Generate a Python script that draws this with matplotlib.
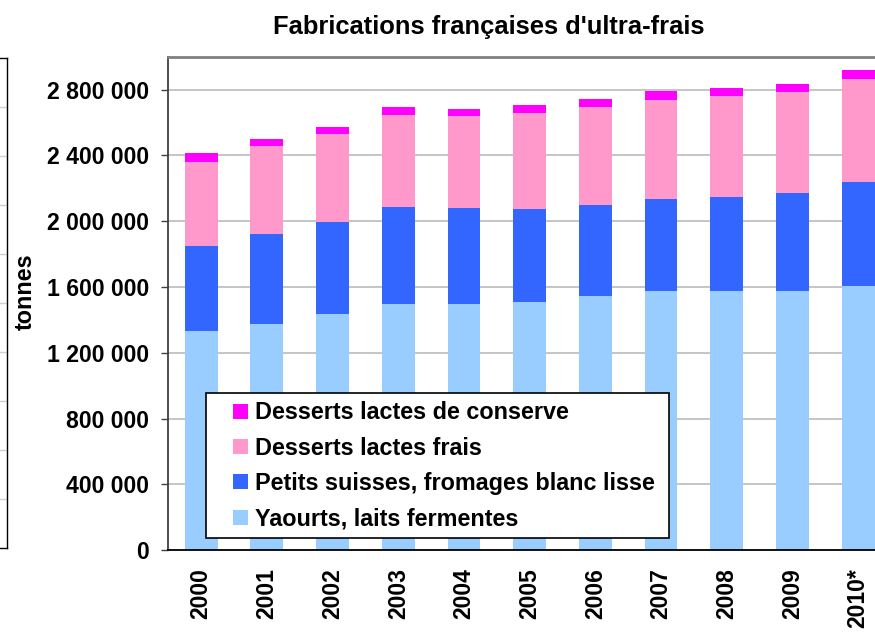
import numpy as np
import matplotlib
matplotlib.use('Agg')
import matplotlib.pyplot as plt
from matplotlib.ticker import FuncFormatter
from matplotlib.patches import Rectangle
from matplotlib.legend_handler import HandlerPatch

plt.rcParams['font.family'] = ['Liberation Sans', 'DejaVu Sans']
plt.rcParams['font.weight'] = 'bold'

years = ['2000', '2001', '2002', '2003', '2004', '2005', '2006', '2007', '2008', '2009', '2010*']
yaourts = [1335000, 1378000, 1439000, 1500000, 1500000, 1512000, 1548000, 1573000, 1573000, 1579000, 1609000]
petits_suisses = [517000, 542000, 554000, 584000, 578000, 560000, 548000, 560000, 572000, 591000, 627000]
desserts_frais = [511000, 536000, 536000, 562000, 560000, 584000, 597000, 603000, 615000, 615000, 627000]
desserts_conserve = [49000, 43000, 43000, 47000, 43000, 49000, 49000, 55000, 49000, 49000, 55000]

series = [
    ('Yaourts, laits fermentes', yaourts, '#99CCFF'),
    ('Petits suisses, fromages blanc lisse', petits_suisses, '#3366FF'),
    ('Desserts lactes frais', desserts_frais, '#FF99CC'),
    ('Desserts lactes de conserve', desserts_conserve, '#FF00FF'),
]

W, H = 875, 632
fig = plt.figure(figsize=(W / 100, H / 100), dpi=100)

# bord du graphique voisin, coupe a gauche
ax0 = fig.add_axes([-0.1, 1 - 547.7 / H, 0.1 + 7 / W, (547.7 - 57.7) / H])
ax0.set_xlim(0, 1)
ax0.set_ylim(0, 10)
for g in range(1, 10):
    ax0.axhline(g, color='#D0D0D0', lw=1.0)
ax0.set_xticks([])
ax0.set_yticks([])
for s in ax0.spines.values():
    s.set_color('black')
    s.set_linewidth(1.0)

ax = fig.add_axes([168.3 / W, 1 - 550.3 / H, (891 - 168.3) / W, (550.3 - 56.7) / H])
x = np.arange(len(years))
bottom = np.zeros(len(years))
handles = {}
for name, vals, col in series:
    b = ax.bar(x, vals, width=0.5, bottom=bottom, color=col, label=name, zorder=2)
    handles[name] = b.patches[0]
    bottom += np.array(vals)

ax.set_xlim(-0.5, len(years) - 0.5)
ax.set_ylim(0, 3000000)
ax.set_yticks(np.arange(0, 3000001, 400000))
ax.yaxis.set_major_formatter(FuncFormatter(lambda v, p: f'{int(v):,}'.replace(',', ' ')))
ax.grid(axis='y', color='#C0C0C0', lw=1.3, zorder=0)
ax.set_axisbelow(True)
ax.set_xticks(x)
ax.set_xticklabels(years, rotation=90, fontsize=16.5, fontweight='bold')
ax.tick_params(axis='x', length=0, pad=13)
ax.tick_params(axis='y', labelsize=16.6, length=5, width=1.0, color='#404040', pad=9)
for lab in ax.get_yticklabels():
    lab.set_fontweight('bold')

ax.spines['top'].set_color('#808080')
ax.spines['top'].set_linewidth(2)
ax.spines['left'].set_color('#404040')
ax.spines['left'].set_linewidth(1.3)
ax.spines['bottom'].set_color('black')
ax.spines['bottom'].set_linewidth(1.3)
ax.spines['right'].set_visible(False)

fig.text(25 / W, 1 - 292 / H, 'tonnes', rotation=90, ha='center', va='center',
         fontsize=16.8, fontweight='bold')
fig.text(489 / W, 1 - 27 / H, "Fabrications françaises d'ultra-frais", ha='center', va='center',
         fontsize=18.4, fontweight='bold')


# carre de legende colle a droite de la zone du symbole
def square(legend, orig_handle, xdescent, ydescent, width, height, fontsize):
    side = 15 * 72 / 100
    return Rectangle((width - side - xdescent, (height - side) / 2 - ydescent), side, side)


order = [s[0] for s in series][::-1]
leg = fig.legend([handles[n] for n in order], order,
                 bbox_to_anchor=(206 / W, 1 - 534 / H, (669 - 206) / W, (534 - 393) / H),
                 loc='upper left', mode='expand', borderaxespad=0, fancybox=False,
                 prop={'size': 16.8, 'weight': 'bold'}, handlelength=1.46, handleheight=0.7,
                 handletextpad=0.3, labelspacing=0.53, borderpad=0.35, framealpha=1,
                 handler_map={Rectangle: HandlerPatch(patch_func=square)})
leg.get_frame().set_edgecolor('black')
leg.get_frame().set_linewidth(1.2)

fig.savefig('out.png', dpi=100)
